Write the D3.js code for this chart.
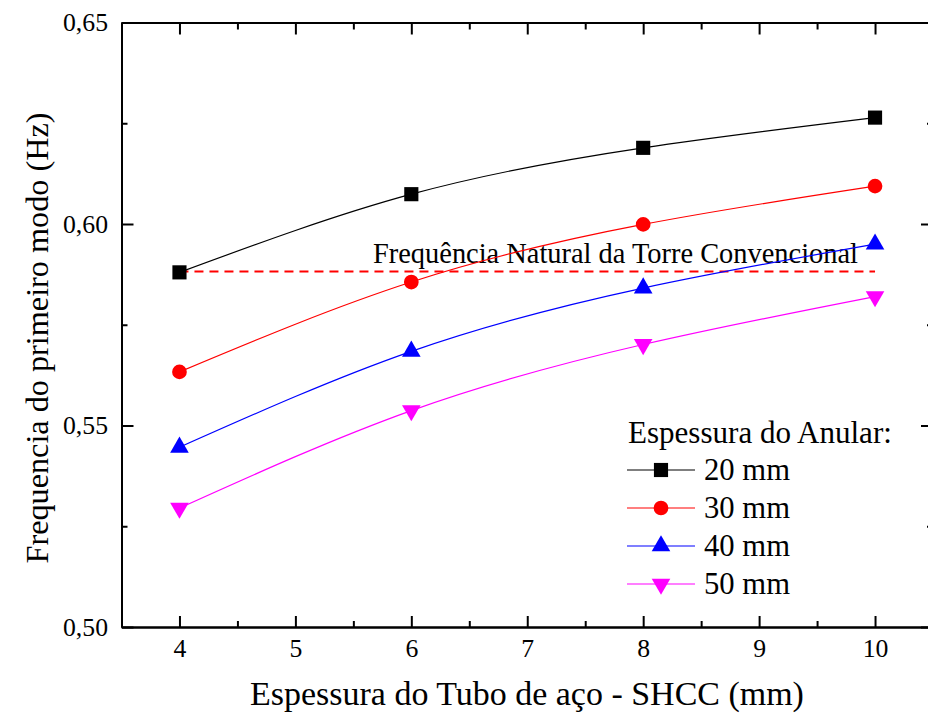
<!DOCTYPE html>
<html><head><meta charset="utf-8">
<script src="https://cdn.jsdelivr.net/npm/d3@7"></script>
<style>body{margin:0;background:#fff}svg{display:block}text{font-family:"Liberation Serif","Times New Roman",serif;fill:#000}</style>
</head><body><svg id="c" width="928" height="717"></svg>
<script>
const thickness = [4, 6, 8, 10];
const s20 = [0.5880, 0.6074, 0.6189, 0.6264];
const s30 = [0.5633, 0.5856, 0.5999, 0.6094];
const s40 = [0.5446, 0.5684, 0.5841, 0.5950];
const s50 = [0.5295, 0.5537, 0.5701, 0.5820];
const seriesNames = ["20 mm", "30 mm", "40 mm", "50 mm"];
const conventional = 0.5882;
const xTicks = [4, 5, 6, 7, 8, 9, 10];
const yTicks = [0.50, 0.55, 0.60, 0.65];

const svg = d3.select("#c");
const SERIF = '"Liberation Serif","Times New Roman",serif';
const L = 121.5, R = 933, T = 22.5, B = 627;
const x = d3.scaleLinear().domain([3.5, 10.5]).range([L, R]);
const y = d3.scaleLinear().domain([0.50, 0.65]).range([B, T]);
const fmt = d => d3.format(".2f")(d).replace(".", ",");

// scale a text's font size so it spans the given width
function fit(sel, fs, target) {
  sel.style("font-family", SERIF).style("font-size", fs + "px");
  const w = sel.node().getComputedTextLength();
  sel.style("font-size", (fs * target / w).toFixed(2) + "px");
  return sel;
}

const series = [
  {name: seriesNames[0], vals: s20, color: "#000000", sym: d3.symbolSquare, size: 200, rot: 0},
  {name: seriesNames[1], vals: s30, color: "#ff0000", sym: d3.symbolCircle, size: 170, rot: 0},
  {name: seriesNames[2], vals: s40, color: "#0000ff", sym: d3.symbolTriangle, size: 150, rot: 0},
  {name: seriesNames[3], vals: s50, color: "#ff00ff", sym: d3.symbolTriangle, size: 150, rot: 180}
];

// axes
const ax = svg.append("g");
const xMinor = d3.range(3.5, 10.51, 0.5).filter(v => !xTicks.includes(v));
const yMinor = [0.525, 0.575, 0.625];
ax.append("g").attr("transform", `translate(0,${B})`)
  .call(d3.axisBottom(x).tickValues(xTicks).tickSizeInner(-11).tickSizeOuter(0).tickPadding(12).tickFormat(d3.format("d")));
ax.append("g").attr("transform", `translate(0,${B})`)
  .call(d3.axisBottom(x).tickValues(xMinor).tickSizeInner(-6).tickSizeOuter(0).tickFormat(""));
ax.append("g").attr("transform", `translate(0,${T})`)
  .call(d3.axisTop(x).tickValues(xTicks).tickSizeInner(-12).tickSizeOuter(0).tickFormat(""));
ax.append("g").attr("transform", `translate(0,${T})`)
  .call(d3.axisTop(x).tickValues(xMinor).tickSizeInner(-7).tickSizeOuter(0).tickFormat(""));
const gy = ax.append("g").attr("transform", `translate(${L},0)`)
  .call(d3.axisLeft(y).tickValues(yTicks).tickSizeInner(-12).tickSizeOuter(0).tickPadding(13.5).tickFormat(fmt));
ax.append("g").attr("transform", `translate(${L},0)`)
  .call(d3.axisLeft(y).tickValues(yMinor).tickSizeInner(-6).tickSizeOuter(0).tickFormat(""));
ax.append("g").attr("transform", `translate(${R},0)`)
  .call(d3.axisRight(y).tickValues(yTicks).tickSizeInner(-12).tickSizeOuter(0).tickFormat(""));
ax.append("g").attr("transform", `translate(${R},0)`)
  .call(d3.axisRight(y).tickValues(yMinor).tickSizeInner(-6).tickSizeOuter(0).tickFormat(""));
ax.selectAll(".domain").attr("stroke", "#000").attr("stroke-width", 2);
ax.selectAll(".tick line").attr("stroke", "#000").attr("stroke-width", 2);
ax.selectAll("g").attr("font-family", SERIF);
// size tick labels so "0,65" spans ~45px
const yLab = gy.selectAll(".tick text").filter(d => d === 0.65);
fit(yLab, 22, 45);
const tickFs = yLab.style("font-size");
ax.selectAll(".tick text").style("font-family", SERIF).style("font-size", tickFs).attr("fill", "#000");

// dashed conventional line
svg.append("line").attr("x1", x(4)).attr("x2", x(10)).attr("y1", y(conventional)).attr("y2", y(conventional))
  .attr("stroke", "#ff0000").attr("stroke-width", 2).attr("stroke-dasharray", "9,6");
fit(svg.append("text").attr("x", 373).attr("y", 263).text("Frequência Natural da Torre Convencional"), 24, 485);

// series
const line = d3.line().x((d, i) => x(thickness[i])).y(d => y(d)).curve(d3.curveNatural);
series.forEach(s => {
  svg.append("path").attr("d", line(s.vals)).attr("fill", "none").attr("stroke", s.color).attr("stroke-width", 1.2);
  svg.selectAll(null).data(s.vals).enter().append("path")
    .attr("d", d3.symbol().type(s.sym).size(s.size))
    .attr("transform", (d, i) => `translate(${x(thickness[i])},${y(d)}) rotate(${s.rot})`)
    .attr("fill", s.color);
});

// legend
const lg = svg.append("g");
fit(lg.append("text").attr("x", 628).attr("y", 443).text("Espessura do Anular:"), 28, 264);
series.forEach((s, i) => {
  const cy = 470 + i * 38;
  lg.append("line").attr("x1", 627).attr("x2", 695).attr("y1", cy).attr("y2", cy).attr("stroke", s.color).attr("stroke-width", 1.2);
  lg.append("path").attr("d", d3.symbol().type(s.sym).size(s.size)).attr("transform", `translate(661,${cy}) rotate(${s.rot})`).attr("fill", s.color);
  fit(lg.append("text").attr("x", 704).attr("y", cy + 10).text(s.name), 28, 86);
});

// axis titles
fit(svg.append("text").attr("x", (250 + 804) / 2).attr("y", 705).attr("text-anchor", "middle")
  .text("Espessura do Tubo de aço - SHCC (mm)"), 32, 554);
fit(svg.append("text").attr("transform", `translate(48,338) rotate(-90)`).attr("text-anchor", "middle")
  .text("Frequencia do primeiro modo (Hz)"), 32, 451);
</script></body></html>
